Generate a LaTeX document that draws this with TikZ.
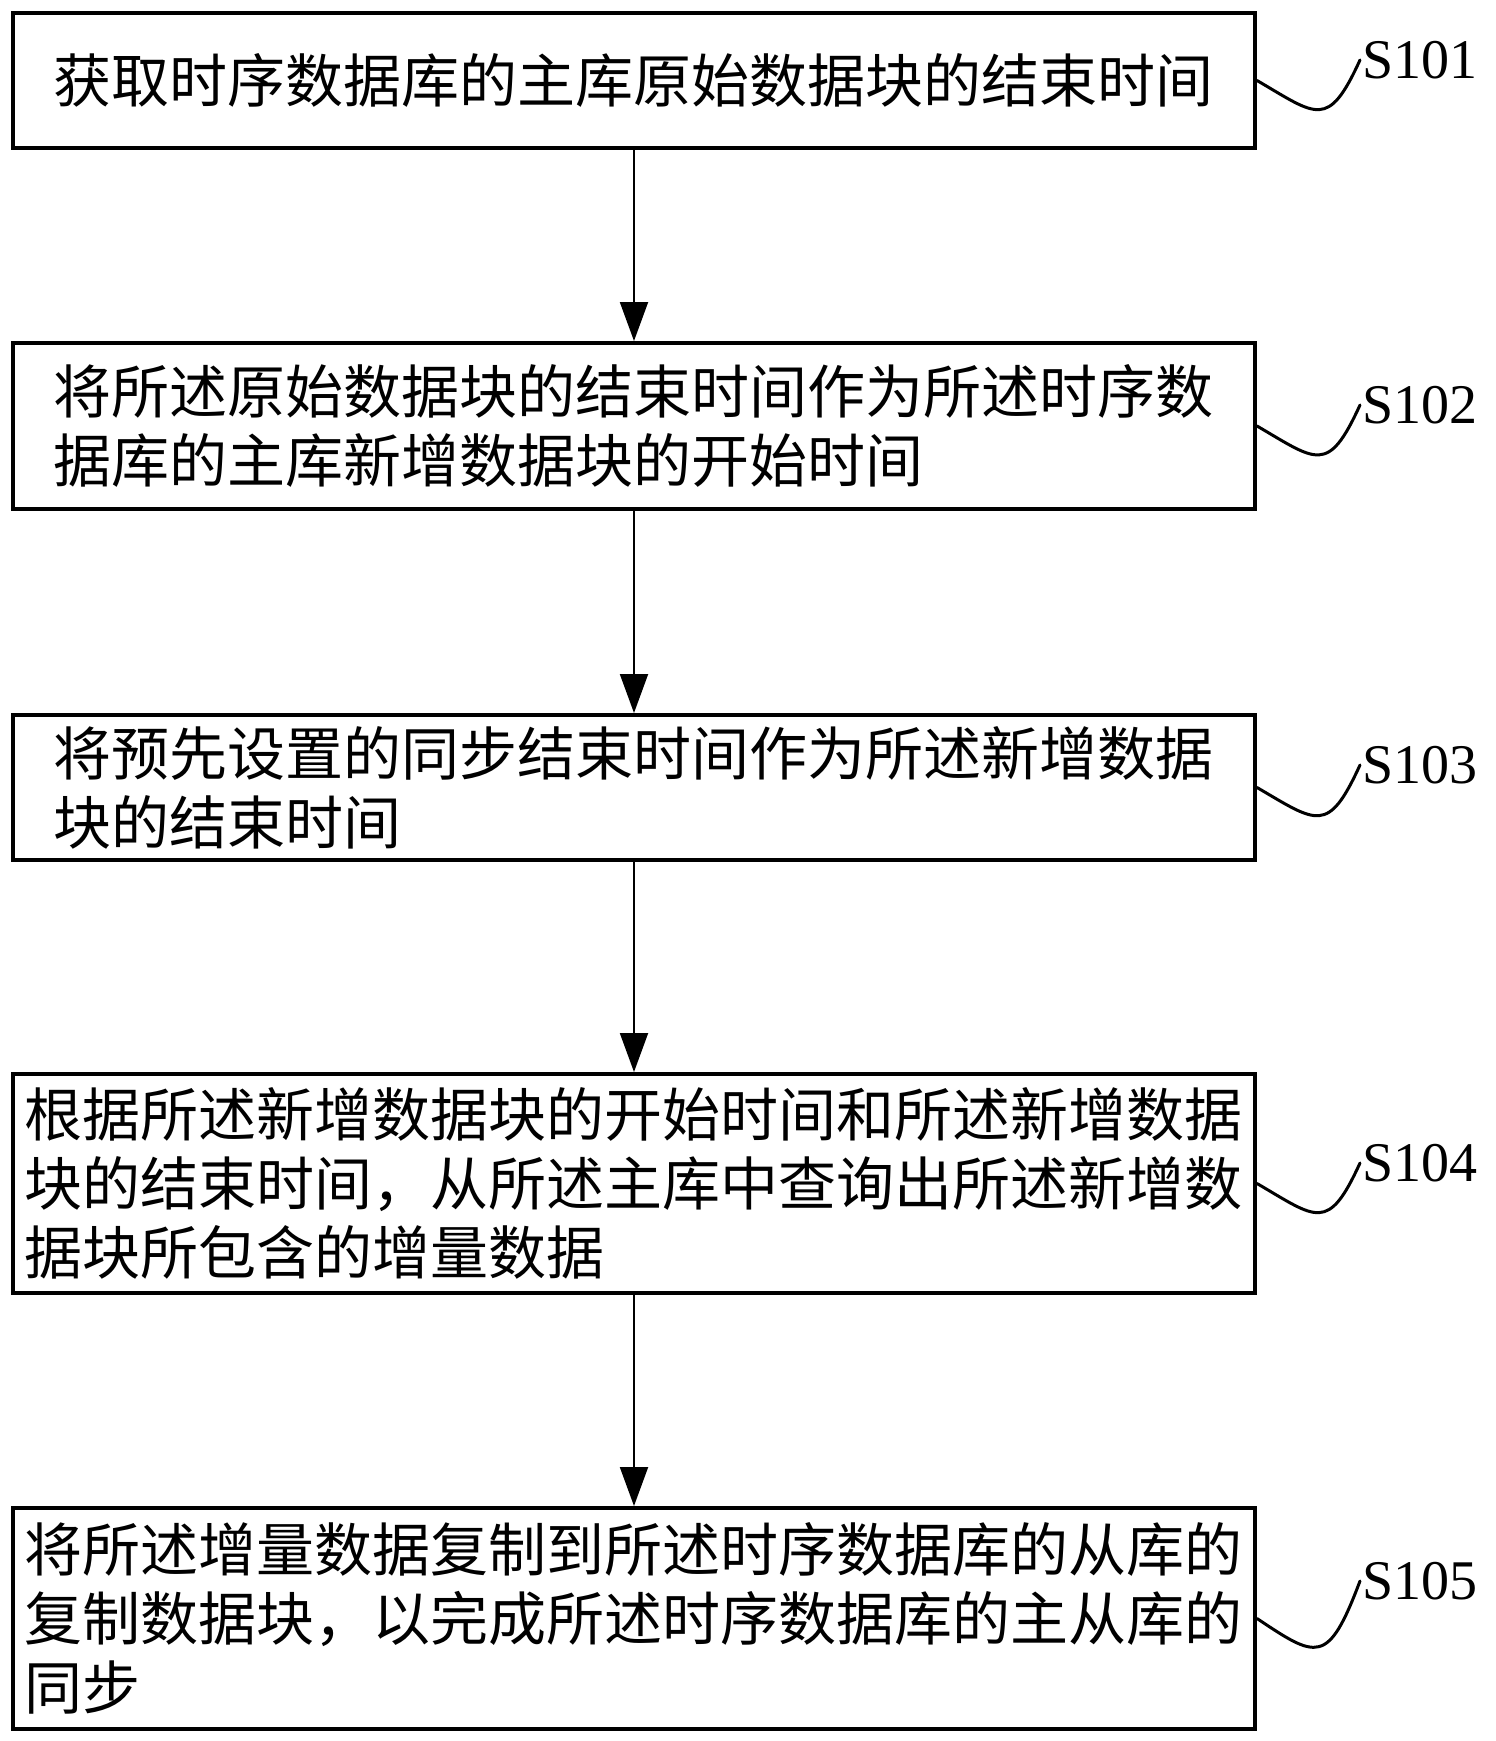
\documentclass[tikz,border=0pt]{standalone}
\usepackage{fontspec}
\setmainfont{Liberation Serif}
\newfontfamily\cjk{Noto Sans CJK SC}
\usepackage{tikz}
\usetikzlibrary{arrows.meta}
\tikzstyle{StepBox}=[draw=black,line width=2pt,minimum width=621pt,align=left,
inner xsep=2pt,font=\cjk\fontsize{29pt}{34.5pt}\selectfont]
\tikzstyle{StepLabel}=[anchor=west,inner sep=1pt,font=\fontsize{28pt}{30pt}\selectfont]
\tikzstyle{FlowArrow}=[black,line width=1pt,-{Triangle[length=19.5pt,width=14pt]}]
\tikzstyle{Squiggle}=[black,line width=1.5pt,line cap=round]

\begin{document}
\begin{tikzpicture}[x=0.5pt,y=-0.5pt]
        \useasboundingbox (0,0) rectangle (1495,1741);
        \node[StepBox,minimum height=67.5pt](b1)at(634,80.5){获取时序数据库的主库原始数据块的结束时间};
        \node[StepBox,minimum height=83pt](b2)at(634,426){将所述原始数据块的结束时间作为所述时序数\\据库的主库新增数据块的开始时间};
        \node[StepBox,minimum height=72.5pt](b3)at(634,787.5){将预先设置的同步结束时间作为所述新增数据\\块的结束时间};
        \node[StepBox,minimum height=109.5pt](b4)at(634,1183.5){根据所述新增数据块的开始时间和所述新增数据\\块的结束时间，从所述主库中查询出所述新增数\\据块所包含的增量数据};
        \node[StepBox,minimum height=110.5pt](b5)at(634,1618.5){将所述增量数据复制到所述时序数据库的从库的\\复制数据块，以完成所述时序数据库的主从库的\\同步};
        \node[StepLabel](s1)at(1360,60){S101};
        \node[StepLabel](s2)at(1360,405){S102};
        \node[StepLabel](s3)at(1360,765){S103};
        \node[StepLabel](s4)at(1360,1163){S104};
        \node[StepLabel](s5)at(1360,1581){S105};
        \draw[FlowArrow](b1)--(b2);
        \draw[FlowArrow](b2)--(b3);
        \draw[FlowArrow](b3)--(b4);
        \draw[FlowArrow](b4)--(b5);
        \draw[Squiggle](b1.east)..controls +(60,35) and +(-32,70)..(s1.west);
        \draw[Squiggle](b2.east)..controls +(60,35) and +(-32,70)..(s2.west);
        \draw[Squiggle](b3.east)..controls +(60,35) and +(-32,70)..(s3.west);
        \draw[Squiggle](b4.east)..controls +(60,35) and +(-32,70)..(s4.west);
        \draw[Squiggle](b5.east)..controls +(60,40) and +(-32,85)..(s5.west);
    \end{tikzpicture}
\end{document}
